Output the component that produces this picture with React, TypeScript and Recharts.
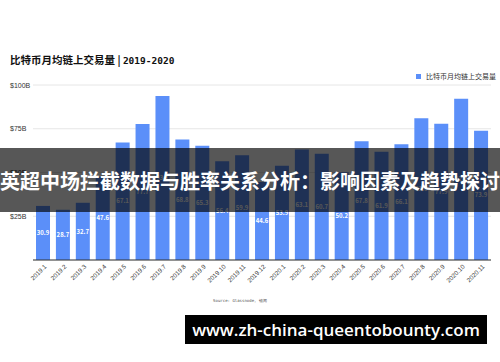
import React from 'react'
import { BarChart, Bar, XAxis, YAxis, CartesianGrid, LabelList } from 'recharts'

// 月份
const months = [
  '2019.1', '2019.2', '2019.3', '2019.4', '2019.5', '2019.6', '2019.7', '2019.8',
  '2019.9', '2019.10', '2019.11', '2019.12', '2020.1', '2020.2', '2020.3', '2020.4',
  '2020.5', '2020.6', '2020.7', '2020.8', '2020.9', '2020.10', '2020.11'
]

// 比特币月均链上交易量 ($B)
const volumes = [
  30.9, 28.7, 32.7, 47.6, 67.1, 77.7, 93.7, 68.8,
  65.3, 56.4, 59.9, 44.6, 53.9, 63.1, 60.7, 50.2,
  67.8, 61.9, 66.1, 81.0, 77.9, 92.2, 73.9
]

const yTicks = [0, 25, 50, 75, 100]

const seriesName = '比特币月均链上交易量'
const barColor = '#5b8ff9'

const data = months.map((m, i) => ({ month: m, value: volumes[i] }))

const XTick = ({ x, y, payload }: any) => (
  <text
    x={x + 4}
    y={y + 2}
    transform={`rotate(-45 ${x + 4} ${y + 2})`}
    textAnchor="end"
    fontSize={6.3}
    fill="#333"
    fontFamily="Liberation Sans, Arial, sans-serif"
  >
    {payload.value}
  </text>
)

const YTick = ({ y, payload }: any) =>
  payload.value === 0 ? null : (
    <text
      x={10}
      y={y}
      dy={2.5}
      textAnchor="start"
      fontSize={7}
      fill="#333"
      fontFamily="Liberation Sans, Arial, sans-serif"
    >
      {`$${payload.value}B`}
    </text>
  )

export default function App() {
  return (
    <div
      style={{
        position: 'absolute',
        left: 0,
        top: 0,
        width: 500,
        height: 362,
        background: '#fff',
        overflow: 'hidden',
        fontFamily: '"Noto Sans CJK SC", sans-serif'
      }}
    >
      <div
        style={{
          position: 'absolute',
          left: 10,
          top: 52,
          fontSize: 10.5,
          fontWeight: 700,
          color: '#111',
          whiteSpace: 'nowrap',
          lineHeight: '16px'
        }}
      >
        比特币月均链上交易量 | <span style={{ fontFamily: '"DejaVu Sans Mono", monospace', fontSize: 9.5 }}>2019-2020</span>
      </div>

      <div
        style={{
          position: 'absolute',
          left: 416,
          top: 71,
          display: 'flex',
          alignItems: 'center',
          fontSize: 7,
          color: '#333',
          whiteSpace: 'nowrap'
        }}
      >
        <span style={{ width: 5, height: 5, background: barColor, marginRight: 5, display: 'inline-block' }} />
        {seriesName}
      </div>

      <BarChart
        width={500}
        height={362}
        data={data}
        margin={{ top: 85, right: 9, left: 0, bottom: 62 }}
        barCategoryGap="15%"
      >
        <CartesianGrid vertical={false} stroke="#e6e6e6" />
        <XAxis
          dataKey="month"
          interval={0}
          height={40}
          tickLine={false}
          tickSize={3}
          axisLine={{ stroke: '#333' }}
          tick={<XTick />}
        />
        <YAxis
          width={33}
          domain={[0, 100]}
          ticks={yTicks}
          axisLine={false}
          tickLine={false}
          tick={<YTick />}
        />
        <Bar dataKey="value" name={seriesName} fill={barColor} isAnimationActive={false}>
          <LabelList
            dataKey="value"
            position="center"
            fill="#fff"
            fontSize={6}
            fontWeight={700}
            formatter={(v: any) => Number(v).toFixed(1)}
          />
        </Bar>
      </BarChart>

      <div
        style={{
          position: 'absolute',
          left: 0,
          width: 500,
          top: 298,
          textAlign: 'center',
          paddingRight: 20,
          boxSizing: 'border-box',
          fontSize: 4,
          color: '#555',
          fontFamily: '"DejaVu Sans Mono", monospace'
        }}
      >
        Source: Glassnode, 链闻
      </div>

      <div
        style={{
          position: 'absolute',
          left: 0,
          top: 148,
          width: 500,
          height: 64,
          background: 'rgba(0,0,0,0.66)',
          display: 'flex',
          alignItems: 'center',
          justifyContent: 'center',
          color: '#fff',
          fontSize: 20,
          fontWeight: 700,
          whiteSpace: 'nowrap'
        }}
      >
        英超中场拦截数据与胜率关系分析：影响因素及趋势探讨
      </div>

      <div
        style={{
          position: 'absolute',
          left: 185,
          top: 315,
          width: 302,
          height: 29,
          background: '#000',
          display: 'flex',
          alignItems: 'center',
          justifyContent: 'center',
          color: '#fff',
          fontSize: 17,
          fontWeight: 600,
          fontFamily: '"Open Sans", sans-serif',
          whiteSpace: 'nowrap'
        }}
      >
        www.zh-china-queentobounty.com
      </div>
    </div>
  )
}
